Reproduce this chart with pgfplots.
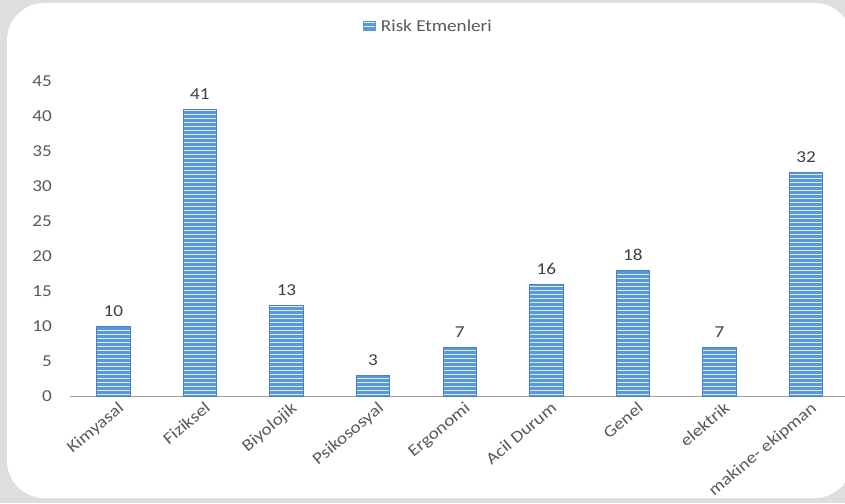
\documentclass[border=0pt]{standalone}
\usepackage{pgfplots}
\pgfplotsset{compat=1.18}
\usetikzlibrary{patterns}
\usepackage{fontspec}
\setmainfont{Carlito}[FakeStretch=1.15]
\definecolor{bgc}{RGB}{222,222,222}
\definecolor{barc}{RGB}{88,152,222}
\definecolor{bare}{RGB}{70,130,205}
\definecolor{txt}{RGB}{89,89,89}
\definecolor{axc}{RGB}{160,160,160}
\begin{document}
\begin{tikzpicture}
\useasboundingbox (0,0) rectangle (633.75pt,377.25pt);
\clip (0,0) rectangle (633.75pt,377.25pt);
\begin{scope}[x=0.75pt,y=0.75pt]
\fill[bgc] (0,0) rectangle (845,503);
\fill[white, rounded corners=28pt] (7,5) rectangle (852,500);
\end{scope}
\begin{axis}[
  at={(52.5pt,79.875pt)}, anchor=south west,
  scale only axis, width=581.25pt, height=236.25pt,
  xmin=-0.5, xmax=8.45, ymin=0, ymax=45,
  ytick={0,5,...,45},
  xtick={0,...,8},
  xticklabels={Kimyasal,Fiziksel,Biyolojik,Psikososyal,Ergonomi,Acil Durum,Genel,elektrik,makine- ekipman},
  axis x line=bottom, axis y line=left,
  x axis line style={-, draw=axc, line width=1.3pt},
  y axis line style={draw=none},
  xtick style={draw=none}, ytick style={draw=none},
  /pgf/number format/assume math mode=true,
  tick label style={font=\fontsize{12.5}{14}\selectfont, color=txt},
  xticklabel style={rotate=40, anchor=north east, inner sep=1pt, xshift=4pt},
  yticklabel style={xshift=-8pt},
  ybar, bar width=25pt,
  nodes near coords,
  every node near coord/.append style={font=\fontsize{12.5}{14}\selectfont, color=black!75, yshift=4pt},
  legend style={draw=none, fill=none, at={(axis description cs:0.463,1.173)}, anchor=center, font=\fontsize{12.5}{15}\selectfont\color{txt}},
  legend image code/.code={\fill[barc] (0cm,-0.1cm) rectangle (0.3cm,0.14cm); \path (0.38cm,0);},
]
\addplot[fill=barc, draw=bare, line width=0.5pt, postaction={pattern=horizontal lines, pattern color=white!80!barc}]
  coordinates {(0,10) (1,41) (2,13) (3,3) (4,7) (5,16) (6,18) (7,7) (8,32)};
\legend{Risk Etmenleri}
\end{axis}
\end{tikzpicture}
\end{document}
